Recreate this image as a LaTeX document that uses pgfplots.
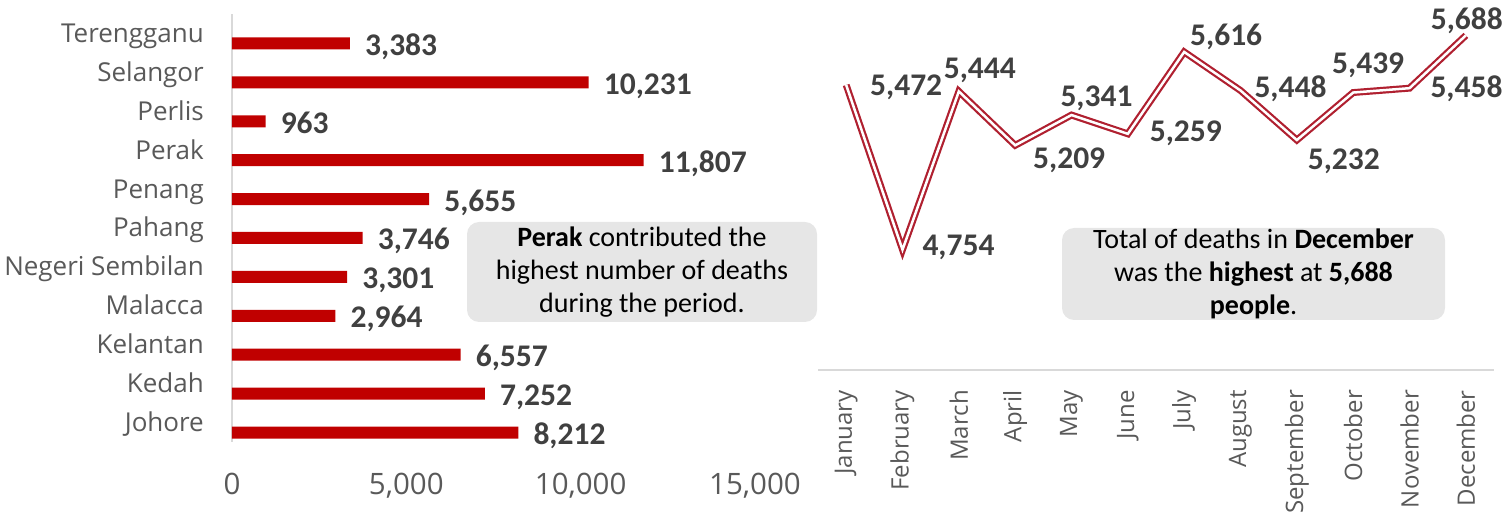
\documentclass[border=0pt]{standalone}
\usepackage{pgfplots}
\pgfplotsset{compat=1.18}
\usepackage{fontspec}
\setmainfont{Carlito}
\newfontfamily\osans{Open Sans}
\definecolor{barred}{RGB}{192,0,0}
\definecolor{linered}{RGB}{176,32,48}
\definecolor{lbl}{RGB}{64,64,64}
\definecolor{tickc}{RGB}{89,89,89}
\definecolor{boxgray}{RGB}{230,230,230}
\definecolor{axgray}{RGB}{217,217,217}
\pgfplotstableread{
y val
0 8212
1 7252
2 6557
3 2964
4 3301
5 3746
6 5655
7 11807
8 963
9 10231
10 3383
}\statetab
\pgfplotstableread{
x val
0 5472
1 4754
2 5444
3 5209
4 5341
5 5259
6 5616
7 5448
8 5232
9 5439
10 5458
11 5688
}\monthtab
\begin{document}
\begin{tikzpicture}
\useasboundingbox (0pt,0pt) rectangle (1507pt,519pt);
\begin{axis}[
  at={(232pt,77pt)}, anchor=south west, scale only axis,
  width=523pt, height=428pt,
  xbar, bar width=12pt, bar shift=-10pt,
  xmin=0, xmax=15000, ymin=-0.5, ymax=10.5,
  ytick={0,...,10},
  yticklabels={Johore,Kedah,Kelantan,Malacca,Negeri Sembilan,Pahang,Penang,Perak,Perlis,Selangor,Terengganu},
  xtick={0,5000,10000,15000},
  scaled x ticks=false,
  axis x line*=bottom, axis y line*=left,
  x axis line style={draw=none},
  y axis line style={draw=axgray, line width=1.2pt, -},
  major tick length=0pt,
  /pgf/number format/assume math mode=true,
  /pgf/number format/1000 sep={,},
  xticklabel style={font=\osans\fontsize{29.5}{29.5}\selectfont, text=tickc, anchor=north, inner sep=0pt, yshift=-31pt},
  yticklabel style={font=\osans\fontsize{26}{26}\selectfont, text=tickc, anchor=base east, inner sep=0pt, xshift=-28pt, yshift=-9pt},
  nodes near coords={\pgfmathprintnumber[assume math mode=true,1000 sep={,}]{\pgfplotspointmeta}},
  nodes near coords style={font=\bfseries\fontsize{31.5}{31.5}\selectfont, text=lbl, anchor=base west, inner sep=0pt, xshift=15pt, yshift=-12pt},
  clip=false,
]
\addplot[fill=barred, draw=none] table[x=val, y=y] {\statetab};
\end{axis}

\begin{axis}[
  at={(818pt,149pt)}, anchor=south west, scale only axis,
  width=676pt, height=358pt,
  xmin=-0.5, xmax=11.5, ymin=4230, ymax=5790,
  axis x line*=bottom, axis y line=none,
  x axis line style={draw=axgray, line width=1.2pt, -},
  major tick length=0pt,
  xtick={0,...,11},
  xticklabels={January,February,March,April,May,June,July,August,September,October,November,December},
  xticklabel shift=20pt,
  xticklabel style={rotate=90, anchor=east, font=\osans\fontsize{24}{24}\selectfont, text=tickc, inner sep=0pt},
  clip=false,
]
\addplot[draw=linered, line width=2.2pt, double=white, double distance=2.5pt] table[x=x, y=val] {\monthtab};
\tikzset{lab/.style={font=\bfseries\fontsize{31.5}{31.5}\selectfont, text=lbl, inner sep=0pt, anchor=center}}
\node[lab, xshift=60pt, yshift=-2pt] at (axis cs:0,5472) {5,472};
\node[lab, xshift=56pt, yshift=2pt] at (axis cs:1,4754) {4,754};
\node[lab, xshift=21pt, yshift=21pt] at (axis cs:2,5444) {5,444};
\node[lab, xshift=54pt, yshift=-15pt] at (axis cs:3,5209) {5,209};
\node[lab, xshift=25pt, yshift=17pt] at (axis cs:4,5341) {5,341};
\node[lab, xshift=58pt, yshift=1pt] at (axis cs:5,5259) {5,259};
\node[lab, xshift=42pt, yshift=15pt] at (axis cs:6,5616) {5,616};
\node[lab, xshift=50pt, yshift=2pt] at (axis cs:7,5448) {5,448};
\node[lab, xshift=47pt, yshift=-21pt] at (axis cs:8,5232) {5,232};
\node[lab, xshift=15pt, yshift=27pt] at (axis cs:9,5439) {5,439};
\node[lab, xshift=57pt, yshift=-1pt] at (axis cs:10,5458) {5,458};
\node[lab, xshift=1pt, yshift=15pt] at (axis cs:11,5688) {5,688};
\end{axis}

\node[fill=boxgray, rounded corners=12pt, minimum width=350pt, minimum height=100pt, inner sep=0pt, align=center, font=\fontsize{28}{33}\selectfont] at (642pt,247pt) {\textbf{Perak} contributed the\\highest number of deaths\\during the period.};
\node[fill=boxgray, rounded corners=12pt, minimum width=383pt, minimum height=92pt, inner sep=0pt, align=center, font=\fontsize{28}{33}\selectfont] at (1253.5pt,245pt) {Total of deaths in \textbf{December}\\was the \textbf{highest} at \textbf{5,688}\\\textbf{people}.};
\end{tikzpicture}
\end{document}
